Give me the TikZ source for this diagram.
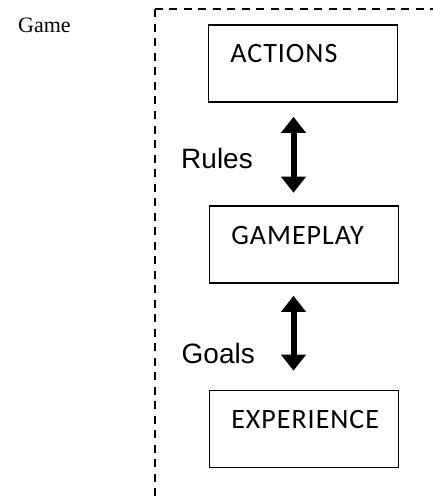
\documentclass[tikz,border=0pt]{standalone}
\usepackage{fontspec}
\setmainfont{Liberation Serif}
\newfontfamily\boxfont[LetterSpace=3.5]{Carlito}
\newfontfamily\tagfont{Liberation Sans}
\usepackage{tikz}
\usetikzlibrary{arrows.meta}

\tikzset{
	stage/.style={draw, line width=1.6pt, anchor=base west, align=left,
		text width=145pt, inner xsep=22pt, inner ysep=0pt,
		text height=38pt, text depth=39pt, font=\boxfont\fontsize{28}{30}\selectfont},
	link/.style={line width=6pt,
		{Triangle[width=24pt,length=16pt]}-{Triangle[width=24pt,length=16pt]}},
	tag/.style={inner sep=0pt, anchor=base east, font=\tagfont\fontsize{28}{30}\selectfont},
	frame/.style={line width=2pt, dash pattern=on 8pt off 6.5pt}
}

\begin{document}
\begin{tikzpicture}[x=1pt, y=-1pt]
		\useasboundingbox (0, 0) rectangle (433, 500);
		\draw[frame]
			(154.5, 9.5) -- (433, 9.5)
			(154.5, 9.5) -- (154.5, 500)
		;
		\node[inner sep=0pt, anchor=base west, font=\fontsize{22}{24}\selectfont] (game) at (18, 33) {Game};
		\path
			(207.5, 63) node[stage] (actions) {ACTIONS}
			(208.5, 244) node[stage] (gameplay) {GAMEPLAY}
			(208.5, 428.5) node[stage] (experience) {EXPERIENCE}
			(293.5, 0) coordinate (axis)
		;
		\draw[link, shorten <=14pt, shorten >=12.5pt] (actions.south -| axis) -- (gameplay.north -| axis);
		\draw[link, shorten <=12pt, shorten >=19pt] (gameplay.south -| axis) -- (experience.north -| axis);
		\node[tag] (rules) at (253, 168) {Rules};
		\node[tag] (goals) at (255, 363) {Goals};
	\end{tikzpicture}
\end{document}
